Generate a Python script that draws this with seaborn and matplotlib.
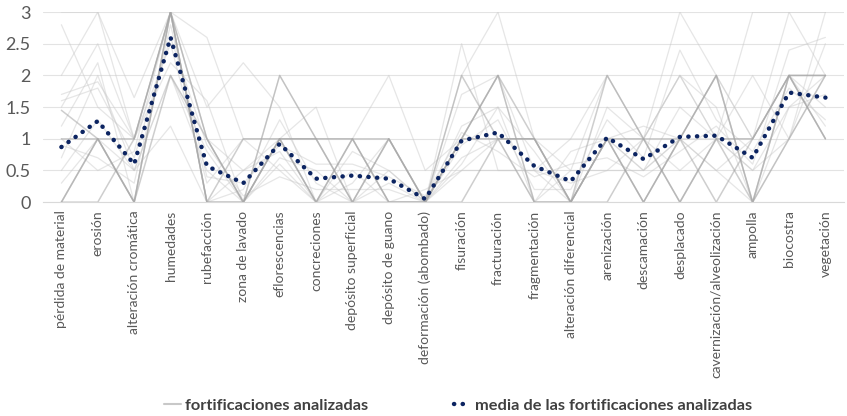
#!/usr/bin/env python3
"""
Deterioration profile of the analysed fortifications: one grey line per
fortification and the dotted mean across all of them.
"""

import pandas as pd
import matplotlib.pyplot as plt
import seaborn as sns

categories = [
    "pérdida de material", "erosión", "alteración cromática", "humedades",
    "rubefacción", "zona de lavado", "eflorescencias", "concreciones",
    "depósito superficial", "depósito de guano", "deformación (abombado)",
    "fisuración", "fracturación", "fragmentación", "alteración diferencial",
    "arenización", "descamación", "desplacado", "cavernización/alveolización",
    "ampolla", "biocostra", "vegetación",
]

# mean of the analysed fortifications
mean_values = [0.87, 1.28, 0.6, 2.6, 0.57, 0.3, 0.92, 0.37, 0.42, 0.37, 0.05,
               0.97, 1.1, 0.57, 0.33, 1.02, 0.68, 1.03, 1.05, 0.7, 1.73, 1.65]

# fortifications drawn with a stronger grey (many coinciding profiles)
strong_profiles = {
    "F01": [0, 1, 0, 3, 0, 0, 1, 0, 1, 0, 0, 1, 2, 1, 0, 1, 0, 1, 2, 0, 2, 2],
    "F02": [1.45, 1, 1, 3, 1, 0, 1, 1, 0, 1, 0, 2, 1, 0, 0, 2, 1, 0, 1, 1, 2, 1],
    "F03": [0, 0, 1, 3, 0, 1, 1, 0, 1, 1, 0, 1, 1, 1, 0, 1, 1, 0, 1, 0, 1, 2],
    "F04": [1, 1, 0, 2, 1, 0, 2, 1, 0, 1, 0, 1, 2, 0, 0, 1, 0, 1, 2, 0, 2, 2],
    "F05": [0, 1, 0, 3, 0, 0, 1, 1, 1, 0, 0, 0, 1, 1, 0, 0, 1, 1, 0, 1, 2, 1],
}

# remaining fortifications (light grey)
light_profiles = {
    "F06": [3, 3, 1, 3, 2.6, 1, 1, 1, 1, 0, 0, 2, 3, 1, 1, 2, 1, 3, 2, 1, 3, 3],
    "F07": [2, 3, 1.65, 3, 1, 0, 2, 1, 1, 2, 0.5, 1, 1, 1, 0, 1, 1, 2, 1, 2, 1, 3],
    "F08": [1.5, 2.5, 1, 3, 1.5, 2.2, 1.5, 0, 0.5, 0, 0, 1.7, 2, 0.5, 1, 1, 0.5, 1, 2, 1, 2, 1],
    "F09": [0.7, 2, 0.5, 2, 0.5, 0, 1, 1.5, 0, 0, 0, 1, 2, 0, 0.5, 2, 1, 2, 1, 3, 3, 2],
    "F10": [1.7, 1.9, 1, 2.5, 0.3, 1, 0.5, 0, 0.8, 0.5, 0, 2.5, 0.5, 0.5, 0, 1, 0, 1, 1, 0.5, 1.5, 2],
    "F11": [1, 0.5, 0.8, 3, 1, 0.5, 1, 0, 0, 0.5, 0, 0.7, 1, 1, 0.5, 0.5, 1, 0.5, 1, 1, 2, 1.2],
    "F12": [0.5, 1.3, 0.5, 2, 0.8, 0, 0.7, 0.5, 0, 0, 0, 1.2, 1.5, 0, 0.8, 1, 0.5, 1.5, 1, 0.5, 1, 2.5],
    "F13": [1.2, 2.2, 0, 3, 0, 0.5, 0.8, 0, 0.3, 1, 0, 0.5, 1, 0, 0, 1, 1.2, 1, 0.5, 1, 2, 1.5],
    "F14": [0.3, 1, 0.5, 1.2, 0, 0.2, 1.3, 0.3, 0, 0, 0.2, 0.5, 0.5, 0.5, 0.3, 0.5, 0.5, 1, 0.5, 0, 1.5, 1.7],
    "F15": [2.8, 1.5, 1, 2.2, 1.6, 0, 0.6, 0, 0, 0.3, 0, 0.6, 1.5, 0.8, 0, 1.5, 1, 2, 1.5, 0, 1, 2],
    "F16": [0.9, 0.7, 0.3, 2.8, 0.4, 0.3, 0.9, 0.6, 0.6, 0.4, 0.1, 1.1, 0.8, 0.4, 0.6, 0.7, 0.4, 0.8, 1.2, 0.6, 2.4, 2.6],
    "F17": [1.6, 1.8, 0.7, 2.6, 0.9, 0.1, 0.4, 0.2, 0.2, 0.2, 0, 0.9, 1.3, 0.2, 0.2, 1.3, 0.7, 2.4, 1.3, 0.8, 1.8, 1.3],
}


def to_long(profiles):
    rows = []
    for name, vals in profiles.items():
        for i, v in enumerate(vals):
            rows.append({"fort": name, "pos": i, "value": v})
    return pd.DataFrame(rows)


def create_figure():
    sns.set_style("white")
    plt.rcParams["font.family"] = ["Lato", "DejaVu Sans"]

    fig = plt.figure(figsize=(8.47, 4.16), dpi=100)
    ax = fig.add_axes([0.051, 0.514, 0.945, 0.457])

    light = to_long(light_profiles)
    strong = to_long(strong_profiles)
    mean_df = pd.DataFrame({"pos": range(len(categories)), "value": mean_values})

    sns.lineplot(data=light, x="pos", y="value", units="fort", estimator=None,
                 color="#c8c8c8", alpha=0.45, linewidth=0.9, ax=ax)
    sns.lineplot(data=strong, x="pos", y="value", units="fort", estimator=None,
                 color="#a6a6a6", alpha=0.55, linewidth=1.1, ax=ax)
    sns.lineplot(data=mean_df, x="pos", y="value", color="#0c2461",
                 linewidth=3.2, linestyle=(0, (0.05, 1.9)),
                 dash_capstyle="round", ax=ax)

    ax.set_xlim(-0.5, len(categories) - 0.5)
    ax.set_ylim(0, 3)
    ax.set_yticks([0, 0.5, 1, 1.5, 2, 2.5, 3])
    ax.set_yticklabels(["0", "0.5", "1", "1.5", "2", "2.5", "3"],
                       fontsize=13, color="#595959")
    ax.set_xticks(range(len(categories)))
    ax.set_xticklabels(categories, rotation=90, fontsize=10, color="#595959",
                       va="top", ha="center")
    ax.tick_params(axis="both", length=0, pad=6)
    ax.tick_params(axis="y", pad=9)
    ax.set_xlabel("")
    ax.set_ylabel("")

    ax.grid(True, axis="y", color="#e3e3e3", linewidth=0.8)
    ax.set_axisbelow(True)
    for side in ["top", "right", "left"]:
        ax.spines[side].set_visible(False)
    ax.spines["bottom"].set_color("#d9d9d9")

    # legend at the bottom
    h_line = plt.Line2D([], [], color="#c8c8c8", linewidth=1.5)
    h_mean = plt.Line2D([], [], color="#0c2461", linewidth=3.2,
                        linestyle=(0, (0.05, 1.9)), dash_capstyle="round")
    fig.legend([h_line, h_mean],
               ["fortificaciones analizadas",
                "media de las fortificaciones analizadas"],
               loc="lower center", bbox_to_anchor=(0.541, -0.028), ncol=2,
               frameon=False, handlelength=1.0, handletextpad=0.3,
               columnspacing=5.2,
               prop={"size": 11.8, "weight": "bold"}, labelcolor="#404040")
    return fig


def main():
    fig = create_figure()
    fig.savefig("out.png", dpi=100, facecolor="white")
    plt.close(fig)


if __name__ == "__main__":
    main()
